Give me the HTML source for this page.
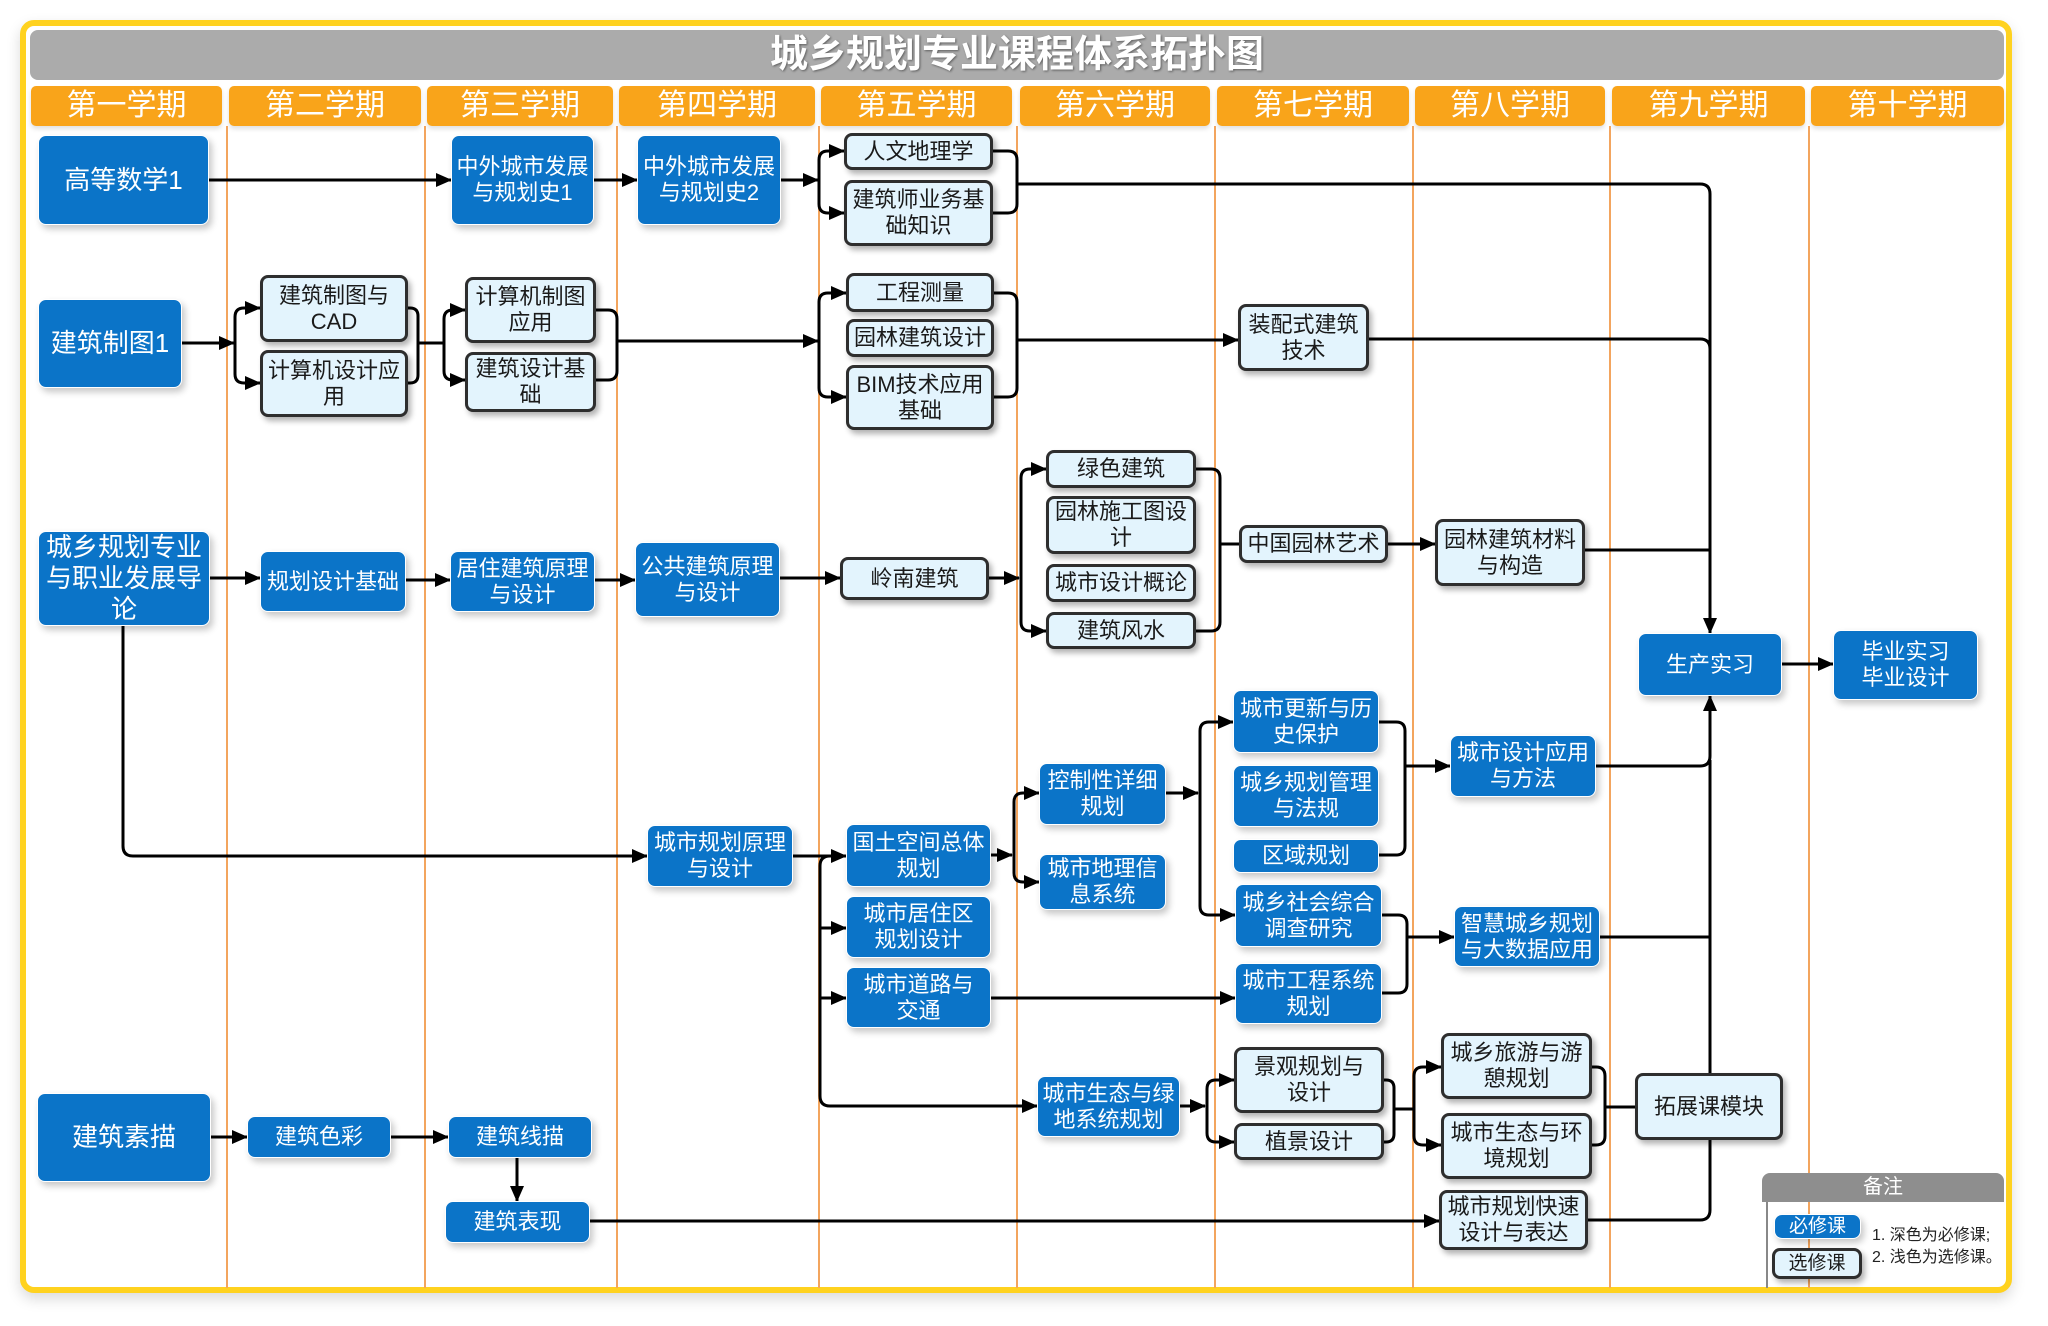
<!DOCTYPE html>
<html><head><meta charset="utf-8">
<style>
*{margin:0;padding:0}
body{width:2048px;height:1326px;position:relative;background:#fff;overflow:hidden;font-family:"Liberation Sans","Noto Sans CJK SC",sans-serif}
.frame{position:absolute;left:20px;top:20px;width:1992px;height:1273px;box-sizing:border-box;border:6px solid #FFD21F;border-radius:14px;box-shadow:0 6px 14px rgba(0,0,0,.15);background:#fff}
.title{position:absolute;left:30px;top:30px;width:1974px;height:50px;background:#ABABAB;border-radius:8px;color:#fff;font-weight:bold;font-size:38px;line-height:50px;text-align:center;text-shadow:1px 1px 2px rgba(0,0,0,.45);letter-spacing:0px}
.hd{position:absolute;top:86px;height:40px;background:#F9A41A;border-radius:5px;color:#fff;font-size:30px;line-height:40px;text-align:center;box-shadow:0 3px 5px rgba(0,0,0,.12)}
.dv{position:absolute;top:126px;height:1162px;width:1.5px;background:#F3A55E}
.n{position:absolute;box-sizing:border-box;display:flex;align-items:center;justify-content:center;text-align:center;font-size:22px;line-height:26px;border-radius:8px;white-space:nowrap}
.d{background:#0B74C8;color:#fff;border:1.5px solid #fff;box-shadow:3px 4px 7px rgba(0,0,0,.22)}
.l{background:#E3F4FD;color:#1a1a1a;border:3px solid #2e2e2e;box-shadow:3px 4px 6px rgba(0,0,0,.3)}
.b{font-size:26px;line-height:31px}
svg{position:absolute;left:0;top:0}
</style></head><body>
<div class="frame"></div>
<div class="title">城乡规划专业课程体系拓扑图</div>

<div class="hd" style="left:31px;width:191px">第一学期</div>
<div class="hd" style="left:229px;width:192px">第二学期</div>
<div class="hd" style="left:427px;width:186px">第三学期</div>
<div class="hd" style="left:619px;width:196px">第四学期</div>
<div class="hd" style="left:821px;width:191px">第五学期</div>
<div class="hd" style="left:1020px;width:190px">第六学期</div>
<div class="hd" style="left:1217px;width:192px">第七学期</div>
<div class="hd" style="left:1415px;width:190px">第八学期</div>
<div class="hd" style="left:1612px;width:193px">第九学期</div>
<div class="hd" style="left:1811px;width:193px">第十学期</div>

<div class="dv" style="left:226px"></div>
<div class="dv" style="left:424px"></div>
<div class="dv" style="left:616px"></div>
<div class="dv" style="left:818px"></div>
<div class="dv" style="left:1016px"></div>
<div class="dv" style="left:1214px"></div>
<div class="dv" style="left:1412px"></div>
<div class="dv" style="left:1609px"></div>
<div class="dv" style="left:1808px"></div>

<svg width="2048" height="1326" viewBox="0 0 2048 1326">
<defs>
<marker id="a" markerWidth="16" markerHeight="14" refX="15" refY="7" orient="auto-start-reverse" markerUnits="userSpaceOnUse"><path d="M0,0 L16,7 L0,14 z" fill="#000"/></marker>
</defs>
<g fill="none" stroke="#000" stroke-width="3" stroke-linejoin="round">
<!-- Row 1 -->
<path d="M209,180 H451" marker-end="url(#a)"/>
<path d="M594,180 H637" marker-end="url(#a)"/>
<path d="M781,180 H818" marker-end="url(#a)"/>
<path d="M844,151 H828 Q819,151 819,160 V204 Q819,213 828,213 H844" marker-start="url(#a)" marker-end="url(#a)"/>
<path d="M993,151 H1008 Q1017,151 1017,160 V204 Q1017,213 1008,213 H993"/>
<path d="M1017,184 H1700 Q1710,184 1710,194 V633" marker-end="url(#a)"/>
<!-- Row 2 -->
<path d="M182,343 H234" marker-end="url(#a)"/>
<path d="M260,308 H244 Q235,308 235,317 V374 Q235,383 244,383 H260" marker-start="url(#a)" marker-end="url(#a)"/>
<path d="M408,308 H410 Q418,308 418,316 V375 Q418,383 410,383 H408"/>
<path d="M418,343 H444"/>
<path d="M465,310 H453 Q444,310 444,319 V371 Q444,380 453,380 H465" marker-start="url(#a)" marker-end="url(#a)"/>
<path d="M596,310 H608 Q617,310 617,319 V371 Q617,380 608,380 H596"/>
<path d="M617,341 H818" marker-end="url(#a)"/>
<path d="M846,293 H828 Q819,293 819,302 V388 Q819,397 828,397 H846" marker-start="url(#a)" marker-end="url(#a)"/>
<path d="M994,293 H1008 Q1017,293 1017,302 V388 Q1017,397 1008,397 H994"/>
<path d="M1017,340 H1238" marker-end="url(#a)"/>
<path d="M1369,339 H1700 Q1710,339 1710,349"/>
<!-- Row 3 -->
<path d="M210,578 H260" marker-end="url(#a)"/>
<path d="M406,580 H450" marker-end="url(#a)"/>
<path d="M595,580 H635" marker-end="url(#a)"/>
<path d="M780,578 H840" marker-end="url(#a)"/>
<path d="M989,578 H1019" marker-end="url(#a)"/>
<path d="M1046,469 H1030 Q1021,469 1021,478 V622 Q1021,631 1030,631 H1046" marker-start="url(#a)" marker-end="url(#a)"/>
<path d="M1196,469 H1211 Q1220,469 1220,478 V622 Q1220,631 1211,631 H1196"/>
<path d="M1220,544 H1239"/>
<path d="M1388,544 H1435" marker-end="url(#a)"/>
<path d="M1585,550 H1710"/>
<path d="M123,626 V846 Q123,856 133,856 H647" marker-end="url(#a)"/>
<path d="M1782,664 H1833" marker-end="url(#a)"/>
<!-- Row 4 -->
<path d="M793,856 H846" marker-end="url(#a)"/>
<path d="M830,856 Q820,856 820,866 V1096 Q820,1106 830,1106 H1037" marker-end="url(#a)"/>
<path d="M820,928 H846" marker-end="url(#a)"/>
<path d="M820,998 H846" marker-end="url(#a)"/>
<path d="M991,855 H1012" marker-end="url(#a)"/>
<path d="M1039,793 H1023 Q1014,793 1014,802 V873 Q1014,882 1023,882 H1039" marker-start="url(#a)" marker-end="url(#a)"/>
<path d="M1166,793 H1198" marker-end="url(#a)"/>
<path d="M1233,722 H1209 Q1200,722 1200,731 V906 Q1200,915 1209,915 H1235" marker-start="url(#a)" marker-end="url(#a)"/>
<path d="M1379,722 H1396 Q1405,722 1405,731 V846 Q1405,855 1396,855 H1379"/>
<path d="M1405,766 H1450" marker-end="url(#a)"/>
<path d="M1382,915 H1398 Q1407,915 1407,924 V984 Q1407,993 1398,993 H1382"/>
<path d="M1407,937 H1454" marker-end="url(#a)"/>
<path d="M991,998 H1235" marker-end="url(#a)"/>
<path d="M1596,766 H1700 Q1710,766 1710,756 V696" marker-end="url(#a)"/>
<path d="M1600,937 H1710"/>
<path d="M1710,1210 V760"/>
<path d="M1588,1220 H1700 Q1710,1220 1710,1210"/>
<!-- Row 5 -->
<path d="M1180,1106 H1205" marker-end="url(#a)"/>
<path d="M1234,1080 H1216 Q1207,1080 1207,1089 V1133 Q1207,1142 1216,1142 H1234" marker-start="url(#a)" marker-end="url(#a)"/>
<path d="M1384,1080 H1386 Q1394,1080 1394,1088 V1134 Q1394,1142 1386,1142 H1384"/>
<path d="M1394,1109 H1414"/>
<path d="M1441,1067 H1423 Q1414,1067 1414,1076 V1136 Q1414,1145 1423,1145 H1441" marker-start="url(#a)" marker-end="url(#a)"/>
<path d="M1592,1067 H1596 Q1605,1067 1605,1076 V1136 Q1605,1145 1596,1145 H1592"/>
<path d="M1605,1107 H1635"/>
<path d="M211,1137 H247" marker-end="url(#a)"/>
<path d="M391,1137 H448" marker-end="url(#a)"/>
<path d="M517,1158 V1201" marker-end="url(#a)"/>
<path d="M590,1221 H1439" marker-end="url(#a)"/>
</g>
</svg>

<!-- Nodes -->
<div class="n d b" style="left:38px;top:135px;width:171px;height:90px">高等数学1</div>
<div class="n d" style="left:451px;top:135px;width:143px;height:90px">中外城市发展<br>与规划史1</div>
<div class="n d" style="left:637px;top:135px;width:144px;height:90px">中外城市发展<br>与规划史2</div>
<div class="n l" style="left:844px;top:133px;width:149px;height:37px">人文地理学</div>
<div class="n l" style="left:844px;top:180px;width:149px;height:66px">建筑师业务基<br>础知识</div>

<div class="n d b" style="left:38px;top:299px;width:144px;height:89px">建筑制图1</div>
<div class="n l" style="left:260px;top:275px;width:148px;height:67px">建筑制图与<br>CAD</div>
<div class="n l" style="left:260px;top:350px;width:148px;height:67px">计算机设计应<br>用</div>
<div class="n l" style="left:465px;top:277px;width:131px;height:66px">计算机制图<br>应用</div>
<div class="n l" style="left:465px;top:352px;width:131px;height:60px">建筑设计基<br>础</div>
<div class="n l" style="left:846px;top:273px;width:148px;height:39px">工程测量</div>
<div class="n l" style="left:846px;top:319px;width:148px;height:38px">园林建筑设计</div>
<div class="n l" style="left:846px;top:365px;width:148px;height:65px">BIM技术应用<br>基础</div>
<div class="n l" style="left:1238px;top:304px;width:131px;height:67px">装配式建筑<br>技术</div>

<div class="n d b" style="left:38px;top:531px;width:172px;height:95px">城乡规划专业<br>与职业发展导<br>论</div>
<div class="n d" style="left:260px;top:551px;width:146px;height:61px">规划设计基础</div>
<div class="n d" style="left:450px;top:551px;width:145px;height:61px">居住建筑原理<br>与设计</div>
<div class="n d" style="left:635px;top:542px;width:145px;height:75px">公共建筑原理<br>与设计</div>
<div class="n l" style="left:840px;top:557px;width:149px;height:43px">岭南建筑</div>
<div class="n l" style="left:1046px;top:450px;width:150px;height:38px">绿色建筑</div>
<div class="n l" style="left:1046px;top:496px;width:150px;height:58px">园林施工图设<br>计</div>
<div class="n l" style="left:1046px;top:564px;width:150px;height:38px">城市设计概论</div>
<div class="n l" style="left:1046px;top:612px;width:150px;height:37px">建筑风水</div>
<div class="n l" style="left:1239px;top:525px;width:149px;height:38px">中国园林艺术</div>
<div class="n l" style="left:1435px;top:519px;width:150px;height:67px">园林建筑材料<br>与构造</div>
<div class="n d" style="left:1638px;top:633px;width:144px;height:63px">生产实习</div>
<div class="n d" style="left:1833px;top:630px;width:145px;height:70px">毕业实习<br>毕业设计</div>

<div class="n d" style="left:647px;top:825px;width:146px;height:62px">城市规划原理<br>与设计</div>
<div class="n d" style="left:846px;top:824px;width:145px;height:63px">国土空间总体<br>规划</div>
<div class="n d" style="left:846px;top:896px;width:145px;height:62px">城市居住区<br>规划设计</div>
<div class="n d" style="left:846px;top:967px;width:145px;height:61px">城市道路与<br>交通</div>
<div class="n d" style="left:1039px;top:763px;width:127px;height:62px">控制性详细<br>规划</div>
<div class="n d" style="left:1039px;top:854px;width:127px;height:56px">城市地理信<br>息系统</div>
<div class="n d" style="left:1233px;top:690px;width:146px;height:63px">城市更新与历<br>史保护</div>
<div class="n d" style="left:1233px;top:765px;width:146px;height:62px">城乡规划管理<br>与法规</div>
<div class="n d" style="left:1233px;top:839px;width:146px;height:34px">区域规划</div>
<div class="n d" style="left:1235px;top:884px;width:147px;height:63px">城乡社会综合<br>调查研究</div>
<div class="n d" style="left:1235px;top:963px;width:147px;height:61px">城市工程系统<br>规划</div>
<div class="n d" style="left:1450px;top:735px;width:146px;height:62px">城市设计应用<br>与方法</div>
<div class="n d" style="left:1454px;top:906px;width:146px;height:61px">智慧城乡规划<br>与大数据应用</div>

<div class="n d" style="left:1037px;top:1076px;width:143px;height:61px">城市生态与绿<br>地系统规划</div>
<div class="n l" style="left:1234px;top:1047px;width:150px;height:66px">景观规划与<br>设计</div>
<div class="n l" style="left:1234px;top:1123px;width:150px;height:37px">植景设计</div>
<div class="n l" style="left:1441px;top:1033px;width:151px;height:66px">城乡旅游与游<br>憩规划</div>
<div class="n l" style="left:1441px;top:1113px;width:151px;height:66px">城市生态与环<br>境规划</div>
<div class="n l" style="left:1439px;top:1190px;width:149px;height:60px">城市规划快速<br>设计与表达</div>
<div class="n l" style="left:1635px;top:1073px;width:148px;height:67px">拓展课模块</div>
<div class="n d b" style="left:37px;top:1093px;width:174px;height:89px">建筑素描</div>
<div class="n d" style="left:247px;top:1116px;width:144px;height:42px">建筑色彩</div>
<div class="n d" style="left:448px;top:1116px;width:144px;height:42px">建筑线描</div>
<div class="n d" style="left:445px;top:1201px;width:145px;height:42px">建筑表现</div>

<!-- Legend -->
<div style="position:absolute;left:1762px;top:1173px;width:242px;height:29px;background:#8E8E8E;border-radius:8px 8px 0 0;color:#fff;font-size:20px;line-height:29px;text-align:center">备注</div>
<div style="position:absolute;left:1766px;top:1202px;width:2px;height:86px;background:#888"></div>
<div class="n d" style="left:1774px;top:1214px;width:87px;height:25px;font-size:19px">必修课</div>
<div class="n l" style="left:1772px;top:1248px;width:90px;height:31px;font-size:19px">选修课</div>
<div style="position:absolute;left:1872px;top:1225px;font-size:16px;line-height:22px;color:#222;white-space:nowrap">1. 深色为必修课;<br>2. 浅色为选修课。</div>
</body></html>
